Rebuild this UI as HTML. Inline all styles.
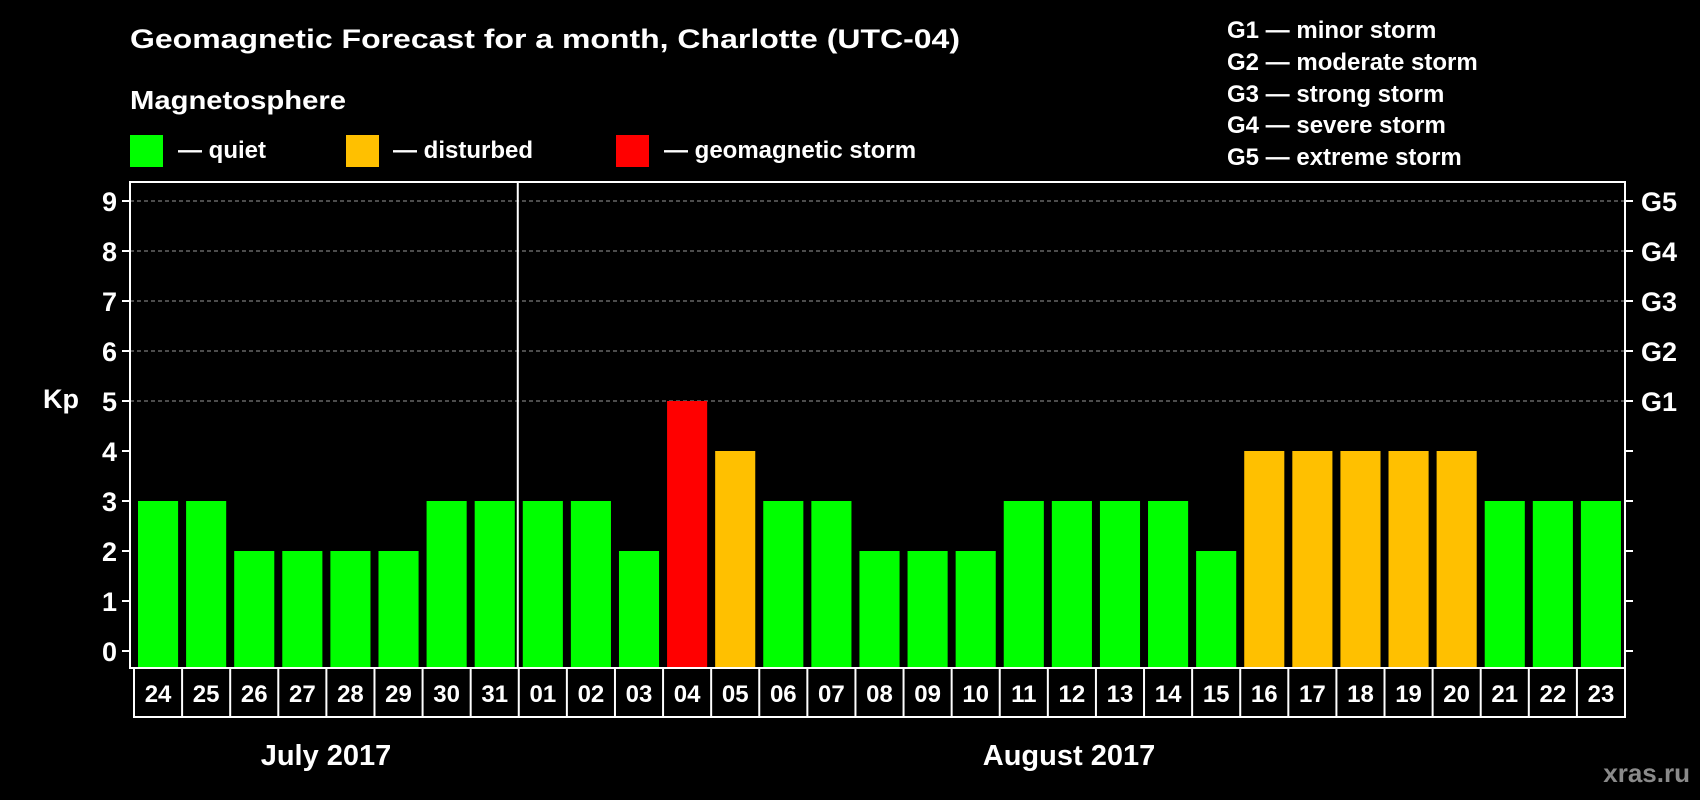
<!DOCTYPE html>
<html><head><meta charset="utf-8"><style>
html,body{margin:0;padding:0;background:#000;}
svg{display:block;font-family:"Liberation Sans",Arial,sans-serif;font-weight:bold;}
</style></head><body>
<svg id="chart" width="1700" height="800" viewBox="0 0 1700 800" xmlns="http://www.w3.org/2000/svg">
<rect x="0" y="0" width="1700" height="800" fill="#000"/>
<text x="130" y="48" fill="#fff" font-size="27" textLength="830" lengthAdjust="spacingAndGlyphs">Geomagnetic Forecast for a month, Charlotte (UTC-04)</text>
<text x="130" y="109" fill="#fff" font-size="26" textLength="216" lengthAdjust="spacingAndGlyphs">Magnetosphere</text>
<g>
<rect x="130" y="135" width="33" height="32" fill="#00ff00"/>
<text x="178" y="158" fill="#fff" font-size="24">— quiet</text>
<rect x="346" y="135" width="33" height="32" fill="#ffc000"/>
<text x="393" y="158" fill="#fff" font-size="24">— disturbed</text>
<rect x="616" y="135" width="33" height="32" fill="#ff0000"/>
<text x="664" y="158" fill="#fff" font-size="24">— geomagnetic storm</text>
</g>
<g fill="#fff" font-size="24">
<text x="1227" y="38">G1 — minor storm</text>
<text x="1227" y="70">G2 — moderate storm</text>
<text x="1227" y="102">G3 — strong storm</text>
<text x="1227" y="133">G4 — severe storm</text>
<text x="1227" y="165">G5 — extreme storm</text>
</g>
<text x="43" y="408" fill="#fff" font-size="27">Kp</text>
<g id="grid"></g>
<g id="bars"></g>
<g id="axes"></g>
<text x="326" y="765" fill="#fff" font-size="29" text-anchor="middle">July 2017</text>
<text x="1069" y="765" fill="#fff" font-size="29" text-anchor="middle">August 2017</text>
<text x="1690" y="782" fill="#8a8a8a" font-size="26" text-anchor="end">xras.ru</text>
</svg>
<script>
const days = ["24","25","26","27","28","29","30","31","01","02","03","04","05","06","07","08","09","10","11","12","13","14","15","16","17","18","19","20","21","22","23"];
const kpValues = [3,3,2,2,2,2,3,3,3,3,2,5,4,3,3,2,2,2,3,3,3,3,2,4,4,4,4,4,3,3,3];
const yTicks = [0,1,2,3,4,5,6,7,8,9];
const gLabels = ["","","","","","G1","G2","G3","G4","G5"];
const monthBreakIndex = 8;

const NS = "http://www.w3.org/2000/svg";
const plotL = 130, plotR = 1625, plotT = 182, plotB = 668, cellL = 134, cellR = 1625, rowB = 717;
const cellW = (cellR - cellL) / days.length;
const y = v => 651 - v * 50;
const x = i => cellL + i * cellW;
function mk(tag, attrs, parent){const e=document.createElementNS(NS,tag);for(const k in attrs)e.setAttribute(k,attrs[k]);parent.appendChild(e);return e;}
const grid=document.getElementById('grid'), bars=document.getElementById('bars'), axes=document.getElementById('axes');

yTicks.forEach(t=>{
  if(t>=5){
    const g=mk('line',{x1:plotL,x2:plotR,y1:y(t),y2:y(t),stroke:'#999','stroke-width':1,'stroke-dasharray':'4,3'},grid);
    
    
  }
  const tl=mk('line',{x1:plotL-8,x2:plotL,y1:y(t),y2:y(t),stroke:'#fff','stroke-width':2},axes);
  
  
  const tr=mk('line',{x1:plotR,x2:plotR+8,y1:y(t),y2:y(t),stroke:'#fff','stroke-width':2},axes);
  
  
  const lb=mk('text',{x:117,y:y(t)+10,fill:'#fff','font-size':27,'text-anchor':'end'},axes);
  lb.textContent=t;
  
  
  if(gLabels[t]){
    const gl=mk('text',{x:1641,y:y(t)+10,fill:'#fff','font-size':27},axes);
    gl.textContent=gLabels[t];
    
    
  }
});

kpValues.forEach((v,i)=>{
  const col = v>=5?'#ff0000':(v>=4?'#ffc000':'#00ff00');
  const r=mk('rect',{x:x(i)+4,y:y(v),width:cellW-8,height:plotB-y(v),fill:col},bars);
  
  
});

const frame=mk('rect',{x:plotL,y:plotT,width:plotR-plotL,height:plotB-plotT,fill:'none',stroke:'#fff','stroke-width':2},axes);


const row=mk('rect',{x:cellL,y:plotB,width:cellR-cellL,height:rowB-plotB,fill:'none',stroke:'#fff','stroke-width':2},axes);


days.forEach((d,i)=>{
  if(i>0){
    const dv=mk('line',{x1:x(i),x2:x(i),y1:plotB,y2:rowB,stroke:'#fff','stroke-width':2},axes);
    
    
  }
  const t=mk('text',{x:x(i)+cellW/2,y:702,fill:'#fff','font-size':24,'text-anchor':'middle'},axes);
  t.textContent=d;
  
  
});
const mb=mk('line',{x1:x(monthBreakIndex)-1,x2:x(monthBreakIndex)-1,y1:plotT,y2:plotB,stroke:'#fff','stroke-width':2},axes);


</script>
</body></html>
